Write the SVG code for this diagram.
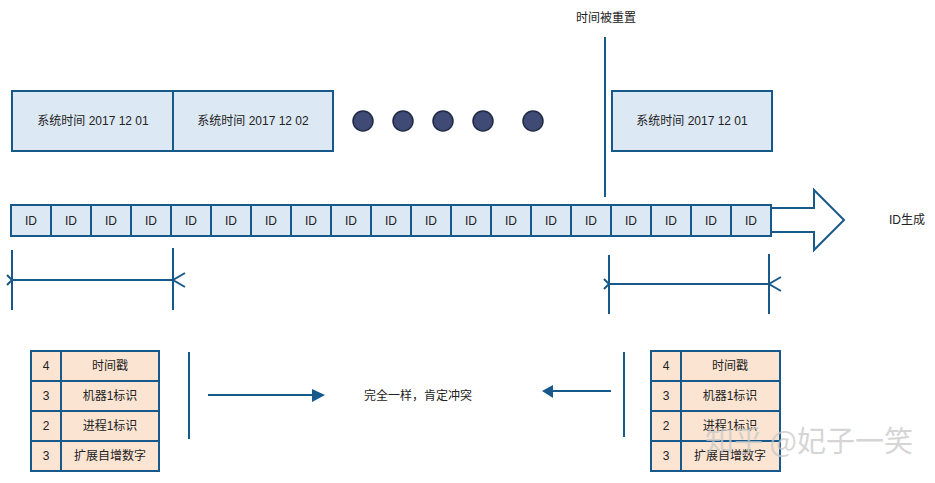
<svg xmlns="http://www.w3.org/2000/svg" width="935" height="483" viewBox="0 0 935 483">
<defs>
<style>
.t{font-family:"Liberation Sans","Noto Sans CJK SC",sans-serif;font-size:12px;fill:#222;text-anchor:middle;dominant-baseline:central}
.blue{fill:#dce8f4;stroke:#17598a;stroke-width:2}
.peach{fill:#fce4d2;stroke:#17598a;stroke-width:2}
.ln{stroke:#17598a;stroke-width:2;fill:none}
.dot{fill:#3f4b74;stroke:#1f2a44;stroke-width:1.5}
</style>
</defs>
<rect width="935" height="483" fill="#fff"/>

<g id="time1"><rect class="blue" x="12" y="91" width="161" height="60"/><text class="t" x="93" y="121">系统时间 2017 12 01</text></g>
<g id="time2"><rect class="blue" x="173" y="91" width="160" height="60"/><text class="t" x="253" y="121">系统时间 2017 12 02</text></g>
<g id="time3"><rect class="blue" x="612" y="91" width="160" height="60"/><text class="t" x="692" y="121">系统时间 2017 12 01</text></g>

<g id="dots">
<circle class="dot" cx="363" cy="121" r="10"/>
<circle class="dot" cx="403" cy="121" r="10"/>
<circle class="dot" cx="443" cy="121" r="10"/>
<circle class="dot" cx="483" cy="121" r="10"/>
<circle class="dot" cx="533" cy="121" r="10"/>
</g>

<g id="reset-label"><text class="t" x="606" y="18">时间被重置</text></g>

<g id="id-strip">
<rect class="blue" x="11" y="205" width="40" height="31"/><text class="t" x="31" y="221">ID</text>
<rect class="blue" x="51" y="205" width="40" height="31"/><text class="t" x="71" y="221">ID</text>
<rect class="blue" x="91" y="205" width="40" height="31"/><text class="t" x="111" y="221">ID</text>
<rect class="blue" x="131" y="205" width="40" height="31"/><text class="t" x="151" y="221">ID</text>
<rect class="blue" x="171" y="205" width="40" height="31"/><text class="t" x="191" y="221">ID</text>
<rect class="blue" x="211" y="205" width="40" height="31"/><text class="t" x="231" y="221">ID</text>
<rect class="blue" x="251" y="205" width="40" height="31"/><text class="t" x="271" y="221">ID</text>
<rect class="blue" x="291" y="205" width="40" height="31"/><text class="t" x="311" y="221">ID</text>
<rect class="blue" x="331" y="205" width="40" height="31"/><text class="t" x="351" y="221">ID</text>
<rect class="blue" x="371" y="205" width="40" height="31"/><text class="t" x="391" y="221">ID</text>
<rect class="blue" x="411" y="205" width="40" height="31"/><text class="t" x="431" y="221">ID</text>
<rect class="blue" x="451" y="205" width="40" height="31"/><text class="t" x="471" y="221">ID</text>
<rect class="blue" x="491" y="205" width="40" height="31"/><text class="t" x="511" y="221">ID</text>
<rect class="blue" x="531" y="205" width="40" height="31"/><text class="t" x="551" y="221">ID</text>
<rect class="blue" x="571" y="205" width="40" height="31"/><text class="t" x="591" y="221">ID</text>
<rect class="blue" x="611" y="205" width="40" height="31"/><text class="t" x="631" y="221">ID</text>
<rect class="blue" x="651" y="205" width="40" height="31"/><text class="t" x="671" y="221">ID</text>
<rect class="blue" x="691" y="205" width="40" height="31"/><text class="t" x="711" y="221">ID</text>
<rect class="blue" x="731" y="205" width="40" height="31"/><text class="t" x="751" y="221">ID</text>
</g>

<g id="id-gen-arrow">
<path class="ln" d="M771,208 H814 V190 L844,220 L814,250 V232 H771" fill="#fff"/>
<text class="t" x="907" y="220">ID生成</text>
</g>

<g id="table-left">
<rect class="peach" x="31" y="351" width="128" height="30"/>
<rect class="peach" x="31" y="381" width="128" height="30"/>
<rect class="peach" x="31" y="411" width="128" height="30"/>
<rect class="peach" x="31" y="441" width="128" height="30"/>
<line class="ln" x1="61" y1="351" x2="61" y2="471"/>
<text class="t" x="46" y="366">4</text><text class="t" x="110" y="366">时间戳</text>
<text class="t" x="46" y="396">3</text><text class="t" x="110" y="396">机器1标识</text>
<text class="t" x="46" y="426">2</text><text class="t" x="110" y="426">进程1标识</text>
<text class="t" x="46" y="456">3</text><text class="t" x="110" y="456">扩展自增数字</text>
</g>

<g id="table-right">
<rect class="peach" x="651" y="351" width="129" height="30"/>
<rect class="peach" x="651" y="381" width="129" height="30"/>
<rect class="peach" x="651" y="411" width="129" height="30"/>
<rect class="peach" x="651" y="441" width="129" height="30"/>
<line class="ln" x1="681" y1="351" x2="681" y2="471"/>
<text class="t" x="666" y="366">4</text><text class="t" x="730" y="366">时间戳</text>
<text class="t" x="666" y="396">3</text><text class="t" x="730" y="396">机器1标识</text>
<text class="t" x="666" y="426">2</text><text class="t" x="730" y="426">进程1标识</text>
<text class="t" x="666" y="456">3</text><text class="t" x="730" y="456">扩展自增数字</text>
</g>

<g id="conflict-label"><text class="t" x="418" y="396">完全一样，肯定冲突</text></g>

<g id="connectors">
<line class="ln" x1="605" y1="37" x2="605" y2="197"/>
<line class="ln" x1="12" y1="250" x2="12" y2="310"/>
<line class="ln" x1="173" y1="248" x2="173" y2="310"/>
<line class="ln" x1="12" y1="280" x2="173" y2="280"/>
<polyline class="ln" points="7,275 12,280 7,285"/>
<polyline class="ln" points="185,273 173,280 185,287"/>
<line class="ln" x1="609" y1="255" x2="609" y2="314"/>
<line class="ln" x1="769" y1="254" x2="769" y2="314"/>
<line class="ln" x1="609" y1="284" x2="769" y2="284"/>
<polyline class="ln" points="604,279 609,284 604,289"/>
<polyline class="ln" points="781,277 769,284 781,291"/>
<line class="ln" x1="189" y1="352" x2="189" y2="439"/>
<line class="ln" x1="624" y1="352" x2="624" y2="437"/>
<line class="ln" x1="208" y1="395" x2="314" y2="395"/>
<polygon points="312,389 325,395 312,402" fill="#17598a"/>
<line class="ln" x1="552" y1="391" x2="611" y2="391"/>
<polygon points="553,385 542,391 553,398" fill="#17598a"/>
</g>

<g id="watermark"><text x="705" y="452" font-family="'Noto Sans CJK SC',sans-serif" font-size="29" fill="#c8c8c8" fill-opacity="0.75">知乎 @妃子一笑</text></g>
</svg>
